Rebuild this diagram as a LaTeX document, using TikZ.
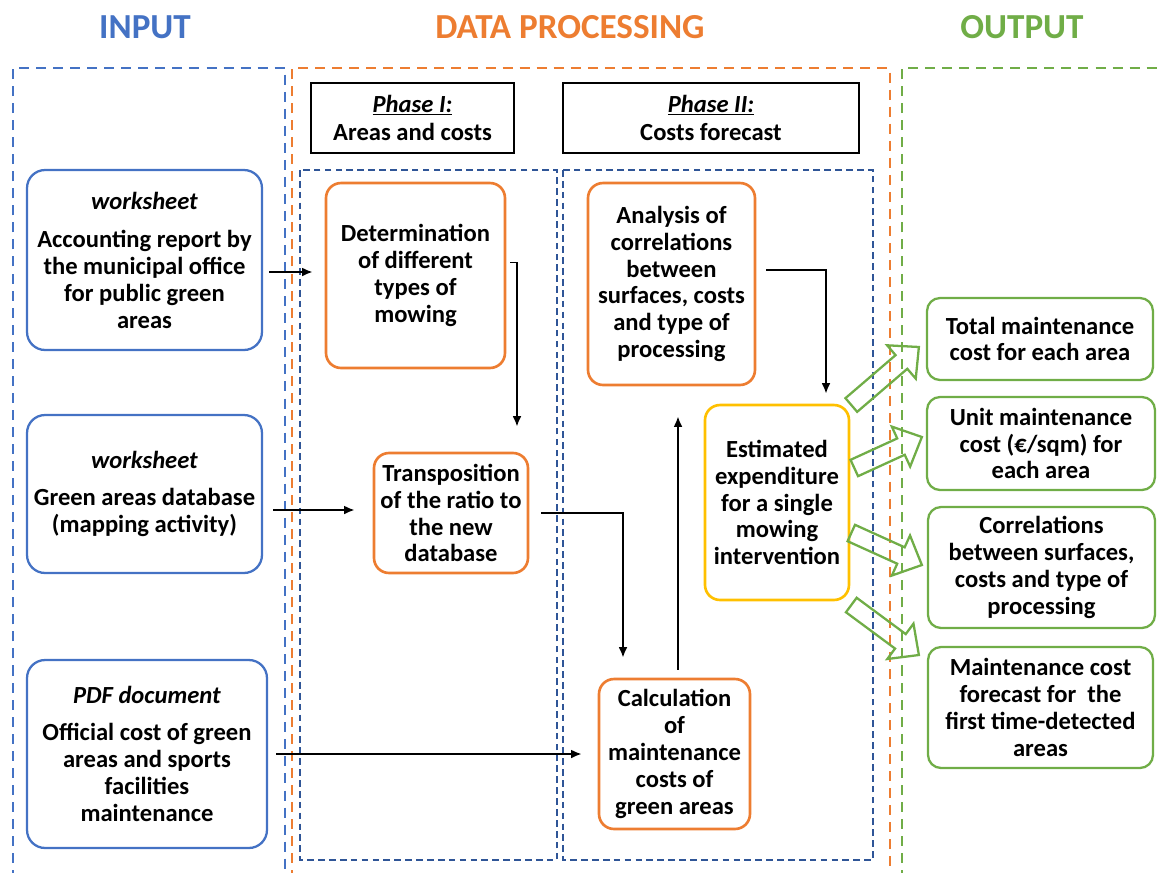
\documentclass[tikz,border=0pt]{standalone}
\usepackage{fontspec}
\setmainfont{Carlito}
\usetikzlibrary{arrows.meta,calc}
\definecolor{inblue}{HTML}{4472C4}
\definecolor{procor}{HTML}{ED7D31}
\definecolor{outgr}{HTML}{70AD47}
\definecolor{navyd}{HTML}{2F5597}
\definecolor{goldy}{HTML}{FFC000}
\newcommand\hollowarrow[2]{%
  \coordinate (hb) at ($(#2)!0.46cm!(#1)$);
  \draw[garrow] ($(#1)!0.18cm!90:(#2)$) -- ($(hb)!0.18cm!90:(#2)$) -- ($(hb)!0.44cm!90:(#2)$) -- (#2)
    -- ($(hb)!0.44cm!-90:(#2)$) -- ($(hb)!0.18cm!-90:(#2)$) -- ($(#1)!0.18cm!-90:(#2)$) -- cycle;
}
\begin{document}
\begin{tikzpicture}[x=0.02cm,y=-0.02cm,
  title/.style={font=\fontsize{20}{24}\selectfont\bfseries, inner sep=0pt},
  txt/.style={font=\fontsize{14}{15.3}\selectfont\bfseries, align=center, inner sep=0pt},
  outerdash/.style={line width=1.4pt, dash pattern=on 5.7pt off 4pt},
  navydash/.style={draw=navyd, line width=1.2pt, dash pattern=on 3.8pt off 2.4pt},
  phasebox/.style={txt, draw=black, line width=1.3pt, font=\fontsize{14}{16.4}\selectfont\bfseries},
  inbox/.style={txt, draw=inblue, line width=1.3pt, rounded corners=0.36cm},
  orbox/.style={txt, draw=procor, line width=1.5pt, rounded corners=0.3cm},
  yebox/.style={txt, draw=goldy, line width=1.5pt, rounded corners=0.3cm},
  grbox/.style={txt, draw=outgr, line width=1.3pt, rounded corners=0.26cm},
  arr/.style={draw=black, line width=1.1pt, -{Latex[length=6pt,width=5pt]}},
  garrow/.style={draw=outgr, line width=1.3pt, line join=miter}
]
\useasboundingbox (0,0) rectangle (1164,873);
\clip (0,0) rectangle (1164,873);

% titles
\node[title, text=inblue] (tin) at (145,27) {INPUT};
\node[title, text=procor] (tproc) at (570,27) {DATA PROCESSING};
\node[title, text=outgr] (tout) at (1022,27) {OUTPUT};

% dashed frames
\draw[outerdash, inblue] (13,880) -- (13,68) -- (285,68) -- (285,880);
\draw[outerdash, procor] (292,880) -- (292,68) -- (890,68) -- (890,880);
\draw[outerdash, outgr] (902,880) -- (902,68) -- (1158,68);
\draw[navydash] (300,170) rectangle (557,860);
\draw[navydash] (563,170) rectangle (873,860);

% phase boxes
\node[phasebox, minimum width=4.06cm, minimum height=1.4cm] (ph1) at (412.5,118)
  {\underline{\textit{Phase I:}}\\Areas and costs};
\node[phasebox, minimum width=5.92cm, minimum height=1.4cm] (ph2) at (711,118)
  {\underline{\textit{Phase II:}}\\Costs forecast};

% input boxes
\node[inbox, minimum width=4.7cm, minimum height=3.6cm] (in1) at (144.5,260)
  {\textit{worksheet}\\[6.5pt]Accounting report by\\the municipal office\\for public green\\areas};
\node[inbox, minimum width=4.7cm, minimum height=3.16cm] (in2) at (144.5,494)
  {\textit{worksheet}\\[6pt]Green areas database\\(mapping activity)};
\node[inbox, minimum width=4.8cm, minimum height=3.76cm] (in3) at (147,754)
  {\textit{PDF document}\\[6pt]Official cost of green\\areas and sports\\facilities\\maintenance};

% processing boxes
\node[orbox, minimum width=3.58cm, minimum height=3.7cm] (det) at (415.5,275.5)
  {Determination\\of different\\types of\\mowing};
\node[orbox, minimum width=3.08cm, minimum height=2.4cm] (trans) at (451,513)
  {Transposition\\of the ratio to\\the new\\database};
\node[orbox, minimum width=3.34cm, minimum height=4.04cm] (ana) at (671.5,284)
  {Analysis of\\correlations\\between\\surfaces, costs\\and type of\\processing};
\node[orbox, minimum width=3.02cm, minimum height=3.0cm] (calc) at (674.5,754)
  {Calculation\\of\\maintenance\\costs of\\green areas};
\node[yebox, minimum width=2.88cm, minimum height=3.9cm] (est) at (777,502.5)
  {Estimated\\expenditure\\for a single\\mowing\\intervention};

% output boxes
\node[grbox, minimum width=4.52cm, minimum height=1.64cm] (o1) at (1040,339)
  {Total maintenance\\cost for each area};
\node[grbox, minimum width=4.56cm, minimum height=1.86cm] (o2) at (1041,443.5)
  {Unit maintenance\\cost (€/sqm) for\\each area};
\node[grbox, minimum width=4.54cm, minimum height=2.42cm] (o3) at (1041.5,567.5)
  {Correlations\\between surfaces,\\costs and type of\\processing};
\node[grbox, minimum width=4.5cm, minimum height=2.42cm] (o4) at (1040.5,707.5)
  {Maintenance cost\\forecast for\ \ the\\first time-detected\\areas};

% black connectors
\draw[arr] ([shift={(6,12)}]in1.east) -- ([shift={(-12,-3.5)}]det.west);
\draw[arr] ([shift={(4,-13)}]det.east) -| ([shift={(66,-25)}]trans.north);
\draw[arr] ([shift={(10,16)}]in2.east) -- ([shift={(-18,-3)}]trans.west);
\draw[arr] ([shift={(12,0)}]trans.east) -| ([shift={(-51.5,-20)}]calc.north);
\draw[arr] ([shift={(8,0)}]in3.east) -- ([shift={(-16,0)}]calc.west);
\draw[arr] ([shift={(3.5,-8)}]calc.north) -- ([shift={(6.5,30)}]ana.south);
\draw[arr] ([shift={(10,-14)}]ana.east) -| ([shift={(49,-10)}]est.north);

% hollow green arrows
\coordinate (g1a) at ([shift={(1,-97.5)}]est.east);
\coordinate (g1b) at ([shift={(-7,8)}]o1.west);
\coordinate (g2a) at ([shift={(4,-34.5)}]est.east);
\coordinate (g2b) at ([shift={(-4,-6.5)}]o2.west);
\coordinate (g3a) at ([shift={(1,30.5)}]est.east);
\coordinate (g3b) at ([shift={(-5,-2.5)}]o3.west);
\coordinate (g4a) at ([shift={(1,102.5)}]est.east);
\coordinate (g4b) at ([shift={(-8,-52.5)}]o4.west);
\hollowarrow{g1a}{g1b}
\hollowarrow{g2a}{g2b}
\hollowarrow{g3a}{g3b}
\hollowarrow{g4a}{g4b}
\end{tikzpicture}
\end{document}
